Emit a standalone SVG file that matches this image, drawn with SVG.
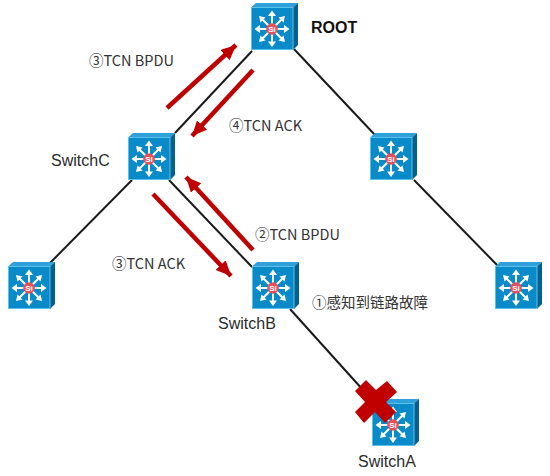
<svg xmlns="http://www.w3.org/2000/svg" width="550" height="476" viewBox="0 0 550 476">
<style>
.link{stroke:#1a1a1a;stroke-width:2;fill:none}
.flow{stroke:#c00000;stroke-width:4.5;fill:none;marker-end:url(#ah)}
text{font-family:"Liberation Sans",Arial,sans-serif;fill:#2b2b2b}
.lbl{font-size:16px}
.msg{font-family:"Noto Sans CJK SC","Liberation Sans",sans-serif;font-size:14.5px;fill:#333}
.root{font-size:16px;font-weight:bold;fill:#111}
.arr{stroke:#fff;stroke-width:2;fill:none}
</style>
<defs>
<marker id="ah" markerUnits="userSpaceOnUse" markerWidth="16" markerHeight="16" refX="15" refY="7" orient="auto"><path d="M0 0L15 7L0 14Z" fill="#c00000"/></marker>
<g id="sw">
<path d="M0 4.500L5 0H47L42 4.500Z" fill="#2fa0da"/>
<path d="M42 4.500L47 0V42L42 47Z" fill="#04608f"/>
<rect x="0.500" y="4.500" width="41.500" height="42" fill="#0a8bc9" stroke="#5cc0ea" stroke-width="1"/>
<g class="arr">
<path d="M21 11V41M6 26H36M10.500 15.500L31.500 36.500M31.500 15.500L10.500 36.500"/>
</g>
<g fill="#fff">
<path d="M21 7.500L17 13H25Z"/><path d="M21 44L17 38.500H25Z"/><path d="M3.500 26L9 22V30Z"/><path d="M38.500 26L33 22V30Z"/>
<path d="M8 13L14.500 14.500L9.500 19.500Z"/><path d="M34 13L27.500 14.500L32.500 19.500Z"/><path d="M8 39L14.500 37.500L9.500 32.500Z"/><path d="M34 39L27.500 37.500L32.500 32.500Z"/>
</g>
<circle cx="21" cy="26" r="5.800" fill="#e2505c"/>
<text x="21" y="29" text-anchor="middle" style="font-size:8px;font-weight:bold;fill:#fff">Si</text>
</g>
</defs>
<g id="connectors">
<path class="link" d="M252 51L175 133"/>
<path class="link" d="M294 49L375 135"/>
<path class="link" d="M132 180L50 263"/>
<path class="link" d="M169 180L252 267"/>
<path class="link" d="M290 309L372 400"/>
<path class="link" d="M414 180L498 266"/>
<path class="flow" d="M167 108L236 45"/>
<path class="flow" d="M253 70L192 136"/>
<path class="flow" d="M253 250L186 177"/>
<path class="flow" d="M153 194L231 276"/>
</g>
<g id="root"><use href="#sw" x="251" y="3"/><text class="root" x="311" y="33">ROOT</text></g>
<g id="switchC"><use href="#sw" x="128" y="133"/><text class="lbl" x="51" y="166">SwitchC</text></g>
<g id="switchR"><use href="#sw" x="370" y="133"/></g>
<g id="switchL"><use href="#sw" x="8" y="262"/></g>
<g id="switchB"><use href="#sw" x="252" y="262"/><text class="lbl" x="218" y="329">SwitchB</text></g>
<g id="switchE"><use href="#sw" x="495" y="262"/></g>
<g id="switchA"><use href="#sw" x="372" y="399"/><text class="lbl" x="358" y="467">SwitchA</text></g>
<path id="fault" d="M366 380L376 390L387 381L397 392L386 402L396 412L385 423L375 412L364 423L355 412L365 402L355 391Z" fill="#c00000"/>
<g id="labels">
<text class="msg" x="89" y="66">③TCN BPDU</text>
<text class="msg" x="229" y="131">④TCN ACK</text>
<text class="msg" x="255" y="240">②TCN BPDU</text>
<text class="msg" x="112" y="269">③TCN ACK</text>
<text class="msg" x="312" y="308">①感知到链路故障</text>
</g>
</svg>
